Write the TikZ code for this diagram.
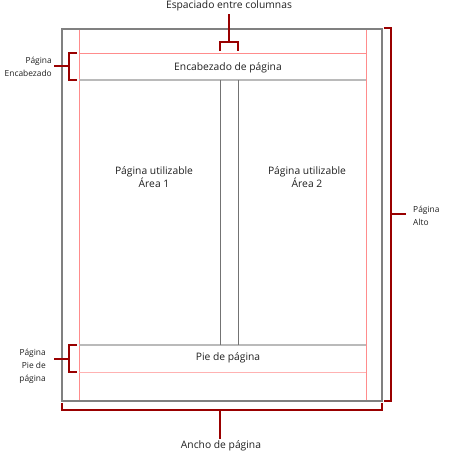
\documentclass[tikz,border=0pt]{standalone}
\usepackage{fontspec}
\setmainfont{Open Sans}
\begin{document}
\begin{tikzpicture}[x=1pt,y=-1pt,
  pageline/.style={draw=black!50,line width=1.6pt},
  marginline/.style={draw=red!45!white,line width=0.9pt},
  lightmargin/.style={draw=red!30!white,line width=0.9pt},
  bandline/.style={draw=black!27,line width=1.6pt},
  colline/.style={draw=black!55,line width=0.8pt},
  bracket/.style={draw=red!60!black,line width=1.6pt},
  lbl/.style={font=\fontsize{10.3}{13}\selectfont,text=black!88,inner sep=0pt,align=center},
  slbl/.style={font=\fontsize{8.4}{13}\selectfont,text=black!88,inner sep=0pt}]
\useasboundingbox (0,0) rectangle (456,453);
% coordinates
\coordinate (pTL) at (62,29); \coordinate (pBR) at (382,401);
% margin lines
\draw[marginline] (79,29) -- (79,401);
\draw[marginline] (366,29) -- (366,401);
\draw[marginline] (79,53) -- (366,53);
\draw[lightmargin] (79,372) -- (366,372);
% header / footer bands
\draw[bandline] (79,80) -- (366,80);
\draw[bandline] (79,345) -- (366,345);
% columns
\draw[colline] (220,80) -- (220,345);
\draw[colline] (238,80) -- (238,345);
% page
\draw[pageline] (pTL) rectangle (pBR);
% texts
\node[lbl] (hdr) at (228,68) {Encabezado de página};
\node[lbl] (a1) at (154,177) {Página utilizable\\Área 1};
\node[lbl] (a2) at (307,177) {Página utilizable\\Área 2};
\node[lbl] (ftr) at (228,358) {Pie de página};
\node[lbl] (gap) at (229,6) {Espaciado entre columnas};
\node[lbl] (wid) at (221,446) {Ancho de página};
\node[slbl,anchor=east,align=right] (hl) at (52,67) {Página\\Encabezado};
\node[slbl,anchor=east,align=right] (fl) at (46,366) {Página\\Pie de\\página};
\node[slbl,anchor=west,align=left] (al) at (413,216) {Página\\Alto};
% brackets
\coordinate (gs) at (229,14);
\draw[bracket] (220,51) -- (220,42) -- (238,42) -- (238,51);
\draw[bracket] (229,42) -- (gs);
\coordinate (hs) at (54,66);
\draw[bracket] (77,53) -- (69,53) -- (69,80) -- (77,80);
\draw[bracket] (69,66) -- (hs);
\coordinate (fs) at (54,359);
\draw[bracket] (77,345) -- (69,345) -- (69,372) -- (77,372);
\draw[bracket] (69,359) -- (fs);
\coordinate (as) at (406,214);
\draw[bracket] (384,28) -- (391,28) -- (391,401) -- (384,401);
\draw[bracket] (391,214) -- (as);
\coordinate (ws) at (220,439);
\draw[bracket] (62,403) -- (62,410) -- (382,410) -- (382,403);
\draw[bracket] (220,410) -- (ws);
\end{tikzpicture}
\end{document}
